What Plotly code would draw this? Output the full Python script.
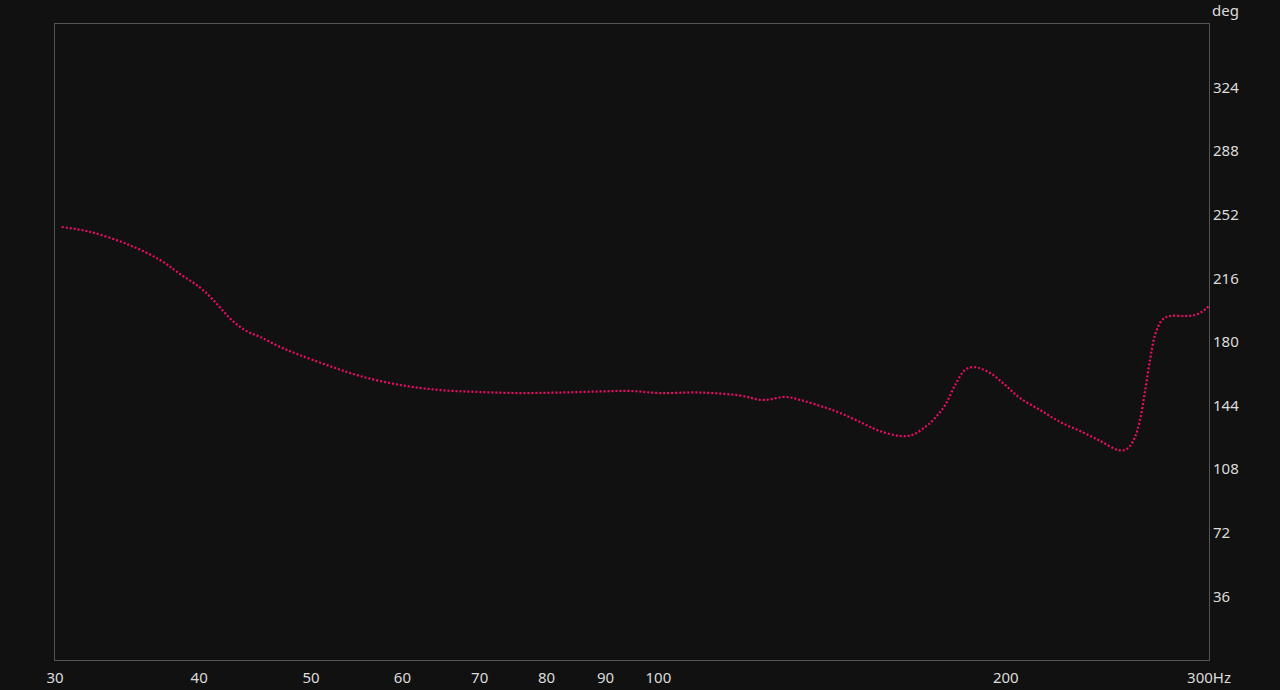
"""Phase response plot, dark theme."""

import math

import plotly.graph_objects as go

freq_hz = [
    30.4, 32.2, 34.8, 37.0, 38.5, 40.1, 41.3, 42.5, 43.8, 45.2,
    47.0, 48.9, 51.9, 55.1, 59.7, 64.7, 70.0, 75.9, 82.2, 89.0,
    94.5, 100.3, 108.7, 117.7, 123.2, 128.8, 132.7, 138.1, 143.7, 150.1,
    155.6, 162.0, 165.9, 170.3, 173.7, 177.2, 180.8, 184.4, 187.8, 193.8,
    199.7, 205.8, 214.2, 222.9, 232.0, 241.4, 250.2, 253.7, 256.2, 258.8,
    261.4, 264.0, 266.7, 269.4, 273.2, 277.5, 286.0, 291.8, 296.4, 300.0,
]
phase_deg = [
    245.1, 242.3, 234.9, 226.4, 218.5, 210.6, 202.6, 193.6, 186.8, 182.8,
    177.2, 172.6, 166.4, 160.8, 155.7, 152.8, 151.7, 151.1, 151.4, 152.0,
    152.3, 151.1, 151.4, 149.7, 147.2, 148.9, 147.2, 143.8, 139.8, 134.2,
    129.6, 126.8, 127.4, 131.9, 137.0, 144.3, 155.7, 164.2, 165.8, 162.5,
    155.7, 148.2, 141.5, 134.7, 129.6, 124.0, 118.9, 118.9, 121.1, 126.2,
    135.8, 151.7, 169.8, 184.0, 192.5, 194.7, 194.7, 195.3, 197.5, 200.4,
]

x_ticks = [30, 40, 50, 60, 70, 80, 90, 100, 200, 300]
x_tick_text = ["30", "40", "50", "60", "70", "80", "90", "100", "200", "300Hz"]
y_ticks = [36, 72, 108, 144, 180, 216, 252, 288, 324]

BG = "#111111"
TEXT = "#dcdcdc"
FONT = "Noto Sans"

fig = go.Figure(
    go.Scatter(
        x=freq_hz,
        y=phase_deg,
        mode="lines",
        line={"color": "#ee0c66", "width": 2.2, "dash": "2px,2px", "shape": "spline"},
        hoverinfo="x+y",
    )
)

fig.update_layout(
    width=1280,
    height=690,
    paper_bgcolor=BG,
    plot_bgcolor=BG,
    margin={"l": 55, "r": 71, "t": 24, "b": 30, "autoexpand": False},
    showlegend=False,
    font={"family": FONT, "size": 15, "color": TEXT},
    xaxis={
        "type": "log",
        "range": [math.log10(30), math.log10(300)],
        "tickvals": x_ticks,
        "ticktext": x_tick_text,
        "showgrid": False,
        "zeroline": False,
        "showline": True,
        "mirror": True,
        "linecolor": "#555555",
        "linewidth": 1,
        "ticks": "",
        "ticklabelstandoff": 4,
        "automargin": False,
    },
    yaxis={
        "range": [0, 360],
        "side": "right",
        "tickvals": y_ticks,
        "showgrid": False,
        "zeroline": False,
        "showline": True,
        "mirror": True,
        "linecolor": "#555555",
        "linewidth": 1,
        "ticks": "",
        "ticklabelstandoff": 0,
        "automargin": False,
    },
    annotations=[
        {
            "text": "deg",
            "xref": "paper",
            "yref": "paper",
            "x": 1,
            "y": 1,
            "xanchor": "left",
            "yanchor": "bottom",
            "xshift": 1,
            "yshift": 2,
            "showarrow": False,
            "font": {"family": FONT, "size": 15, "color": TEXT},
        }
    ],
)

fig.write_html(
    "out.html",
    config={"displayModeBar": False},
    post_script="document.body.style.margin='0';document.body.style.background='#111111';",
)
